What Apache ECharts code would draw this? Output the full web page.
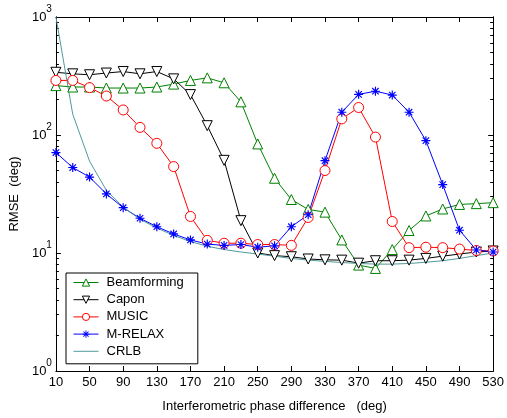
<!DOCTYPE html>
<html>
<head>
<meta charset="utf-8">
<script src="https://cdn.jsdelivr.net/npm/echarts@6/dist/echarts.min.js"></script>
<style>
  html, body { margin: 0; padding: 0; background: #fff; }
  #chart { width: 507px; height: 418px; }
</style>
</head>
<body>
<div id="chart"></div>
<script>
// x values (deg)
var phaseDiff = [10, 30, 50, 70, 90, 110, 130, 150, 170, 190, 210, 230, 250, 270,
                 290, 310, 330, 350, 370, 390, 410, 430, 450, 470, 490, 510, 530];
var xTicks = [10, 50, 90, 130, 170, 210, 250, 290, 330, 370, 410, 450, 490, 530];
var yTicks = [1, 10, 100, 1000];
var yMinorTicks = [2, 3, 4, 5, 6, 7, 8, 9, 20, 30, 40, 50, 60, 70, 80, 90,
                   200, 300, 400, 500, 600, 700, 800, 900];

var beamforming = [262, 255, 255, 250, 250, 250, 255, 270, 290, 305, 277, 191, 84, 43,
                   28.4, 23.4, 22.2, 12.9, 7.9, 7.4, 10.7, 15.5, 20.6, 23.6, 25.8, 26.2, 26.7];
var capon = [340, 330, 324, 335, 345, 330, 345, 299, 220, 120, 61, 18.8, 10.0, 9.5,
             9.3, 8.9, 8.75, 8.7, 8.2, 8.6, 8.6, 8.7, 9.0, 9.4, 9.8, 10.2, 10.4];
var music = [290, 290, 252, 214, 163, 116, 85, 54, 20.4, 12.8, 12.1, 12.1, 11.8, 11.8,
             11.6, 20, 50, 137, 171, 96, 18.5, 11.1, 11.2, 11.1, 10.8, 10.5, 10.4];
var mrelax = [71, 53, 44, 31.7, 24.2, 19.7, 16.7, 14.5, 12.9, 11.9, 11.6, 11.8, 11.2, 11.5,
              16.7, 21.1, 60.6, 156, 221, 235, 218, 156, 89.6, 38, 15.6, 10.6, 10.2];
var crlb = [1000, 150, 60, 34, 24.5, 19.3, 16.3, 14.1, 12.5, 11.4, 10.7, 10.2, 9.8, 9.4,
            9.0, 8.7, 8.5, 8.3, 8.15, 8.05, 8.05, 8.15, 8.35, 8.6, 9.0, 9.5, 10.0];

var FONT = '"Liberation Sans", Arial, sans-serif';
// 8-armed star like matlab's '*'
var asterisk = 'path://M-1.3,-10h2.6v20h-2.6zM-10,-1.3h20v2.6h-20z' +
  'M6.2,8.0L-8.0,-6.2L-6.2,-8.0L8.0,6.2Z' +
  'M-6.2,8.0L-8.0,6.2L6.2,-8.0L8.0,-6.2Z';

function pairs(vals) {
  return phaseDiff.map(function (x, i) { return [x, vals[i]]; });
}

// hollow markers: white fill + 1px coloured border
function lineSeries(name, vals, color, symbol, size, rotate, filled) {
  return {
    name: name,
    type: 'line',
    data: pairs(vals),
    symbol: symbol,
    symbolSize: size,
    symbolRotate: rotate || 0,
    showSymbol: symbol !== 'none',
    lineStyle: { color: color, width: 1 },
    itemStyle: filled
      ? { color: color, borderWidth: 0 }
      : { color: '#fff', borderColor: color, borderWidth: 1 },
    emphasis: { disabled: true },
    animation: false
  };
}

var chart = echarts.init(document.getElementById('chart'));

var xBase = {
  type: 'value', min: 10, max: 530,
  splitLine: { show: false },
  axisLine: { lineStyle: { color: '#000', width: 1 } }
};
var yBase = {
  type: 'log', logBase: 10, min: 1, max: 1000,
  splitLine: { show: false },
  axisLine: { lineStyle: { color: '#000', width: 1 } }
};

chart.setOption({
  backgroundColor: '#fff',
  animation: false,
  grid: { left: 53, right: 13, top: 17, bottom: 42 },
  xAxis: [
    Object.assign({}, xBase, {
      position: 'bottom',
      name: 'Interferometric phase difference   (deg)',
      nameLocation: 'middle',
      nameGap: 29,
      nameTextStyle: { color: '#000', fontSize: 13, fontFamily: FONT },
      axisTick: { inside: true, length: 5, customValues: xTicks, lineStyle: { color: '#000' } },
      axisLabel: { customValues: xTicks, color: '#000', fontSize: 13, fontFamily: FONT, margin: 5 }
    }),
    Object.assign({}, xBase, {
      position: 'top',
      axisTick: { inside: true, length: 5, customValues: xTicks, lineStyle: { color: '#000' } },
      axisLabel: { show: false }
    })
  ],
  yAxis: [
    Object.assign({}, yBase, {
      position: 'left',
      name: 'RMSE  (deg)',
      nameLocation: 'middle',
      nameGap: 33,
      nameTextStyle: { color: '#000', fontSize: 13, fontFamily: FONT },
      axisTick: { inside: true, length: 5, customValues: yTicks, lineStyle: { color: '#000' } },
      axisLabel: {
        customValues: yTicks,
        margin: 4,
        formatter: function (v) {
          return '{b|10}{s|' + Math.round(Math.log10(v)) + '}';
        },
        rich: {
          b: { fontSize: 13, fontFamily: FONT, color: '#000', padding: [6, 0, 6, 0] },
          s: { fontSize: 10, fontFamily: FONT, color: '#000', verticalAlign: 'top', lineHeight: 11 }
        }
      }
    }),
    Object.assign({}, yBase, {
      position: 'right',
      axisTick: { inside: true, length: 5, customValues: yTicks, lineStyle: { color: '#000' } },
      axisLabel: { show: false }
    }),
    Object.assign({}, yBase, {
      position: 'left',
      axisTick: { inside: true, length: 3, customValues: yMinorTicks, lineStyle: { color: '#000' } },
      axisLabel: { show: false }
    }),
    Object.assign({}, yBase, {
      position: 'right',
      axisTick: { inside: true, length: 3, customValues: yMinorTicks, lineStyle: { color: '#000' } },
      axisLabel: { show: false }
    })
  ],
  legend: {
    orient: 'vertical',
    left: 66,
    top: 273,
    padding: [3, 14, 6, 7],
    itemWidth: 25,
    itemHeight: 9,
    itemGap: 4.2,
    backgroundColor: '#fff',
    borderColor: '#000',
    borderWidth: 1,
    lineStyle: { width: 1 },
    itemStyle: { borderWidth: 1 },
    textStyle: { color: '#000', fontSize: 13, fontFamily: FONT, padding: [0, 0, 0, 3] },
    data: ['Beamforming', 'Capon', 'MUSIC',
           { name: 'M-RELAX', itemStyle: { borderWidth: 0 } },
           { name: 'CRLB', itemStyle: { opacity: 0 } }]
  },
  series: [
    lineSeries('Beamforming', beamforming, '#008000', 'triangle', 10),
    lineSeries('Capon', capon, '#000000', 'triangle', 10, 180),
    lineSeries('MUSIC', music, '#ff0000', 'circle', 10),
    lineSeries('M-RELAX', mrelax, '#0000ff', asterisk, 9, 0, true),
    lineSeries('CRLB', crlb, '#4f9a9a', 'none', 0)
  ]
});
</script>
</body>
</html>
